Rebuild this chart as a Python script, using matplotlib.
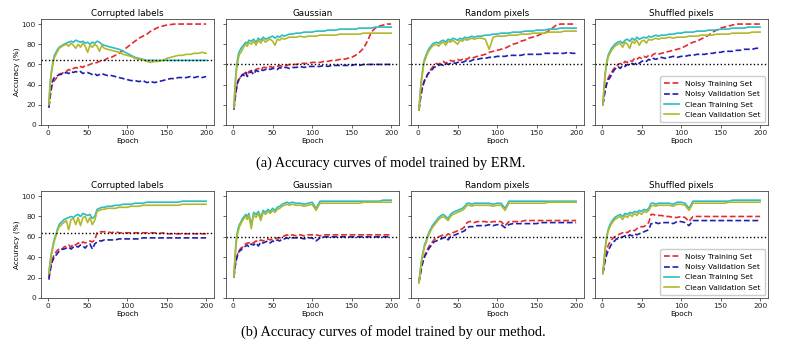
import matplotlib
matplotlib.use("Agg")
import matplotlib.pyplot as plt

epochs = [1, 2, 3, 4, 5, 6, 7, 8,
          10, 12, 14, 16, 18, 20,
          23, 26, 29, 32, 35, 38, 41, 44, 47, 50, 53, 56, 59, 62, 65, 68, 71,
          75, 80, 85, 90, 95, 100, 105, 110, 115, 120, 125, 130, 135, 140, 145,
          150, 155, 160, 165, 170, 175, 180, 185, 190, 195, 200]

panel_titles = ["Corrupted labels", "Gaussian", "Random pixels", "Shuffled pixels"]
series_names = ["Noisy Training Set", "Noisy Validation Set", "Clean Training Set", "Clean Validation Set"]
row_captions = ["(a) Accuracy curves of model trained by ERM.",
                "(b) Accuracy curves of model trained by our method."]
ref_lines_erm = [64, 60, 60, 60]
ref_lines_ours = [64, 60, 60, 60]

# ---------------- ERM row ----------------
erm_corrupt_noisy_train = [18, 24, 30, 35, 39, 41, 43, 44,
                           46, 48, 50, 51, 51, 53,
                           53, 55, 54, 56, 57, 56, 58, 57, 59, 59, 60, 61, 61, 62, 63, 64, 64,
                           66, 67, 69, 71, 74, 77, 80, 83, 86, 88, 90, 93, 95, 97, 98, 99, 99.5,
                           100, 100, 100, 100, 100, 100, 100, 100, 100]
erm_corrupt_noisy_val = [17, 25, 32, 38, 42, 44, 46, 47,
                         48, 49, 50, 50, 51, 51,
                         52, 51, 53, 52, 53, 52, 53, 51, 52, 52, 51, 50, 51, 49, 50, 51, 50,
                         49, 49, 48, 47, 46, 45, 44, 44, 43, 44, 42, 43, 42, 43, 44, 45, 46,
                         46, 47, 47, 47, 48, 47, 48, 47, 48]
erm_corrupt_clean_train = [22, 35, 45, 52, 57, 62, 66, 69,
                           72, 75, 77, 78, 79, 80,
                           81, 82, 83, 82, 84, 83, 82, 83, 81, 82, 80, 82, 81, 83, 82, 80, 79,
                           78, 77, 76, 75, 73, 71, 69, 67, 66, 65, 64, 64, 64, 64, 64, 64, 64,
                           64, 64, 64, 64, 64, 64, 64, 64, 64]
erm_corrupt_clean_val = [20, 32, 42, 50, 55, 60, 64, 67,
                         70, 73, 76, 77, 78, 79,
                         80, 78, 81, 79, 76, 80, 77, 81, 78, 72, 79, 77, 80, 78, 73, 79, 76,
                         75, 74, 73, 72, 70, 69, 68, 66, 65, 65, 63, 62, 63, 63, 64, 66, 67,
                         68, 69, 69, 70, 70, 71, 71, 72, 71]

erm_gauss_noisy_train = [17, 24, 30, 35, 39, 42, 44, 46,
                         48, 50, 51, 52, 50, 53,
                         54, 53, 55, 56, 55, 57, 57, 56, 58, 57, 58, 58, 59, 58, 59, 59, 60,
                         60, 60, 61, 61, 61, 62, 62, 62, 63, 63, 64, 64, 65, 65, 66, 67, 69,
                         72, 76, 83, 92, 96, 98, 99, 100, 100]
erm_gauss_noisy_val = [15, 22, 29, 35, 40, 43, 45, 47,
                       48, 50, 49, 52, 48, 51,
                       53, 50, 54, 53, 55, 54, 55, 56, 55, 56, 56, 55, 57, 56, 57, 57, 56,
                       57, 57, 58, 57, 58, 58, 58, 58, 59, 58, 59, 59, 59, 59, 59, 59, 60,
                       59, 60, 60, 60, 60, 60, 60, 60, 60]
erm_gauss_clean_train = [18, 32, 45, 55, 62, 67, 71, 73,
                         76, 78, 80, 82, 81, 84,
                         83, 85, 82, 86, 84, 87, 85, 86, 87, 88, 86, 88, 87, 89, 88, 89, 90,
                         90, 91, 91, 92, 92, 92, 93, 93, 93, 94, 94, 94, 95, 95, 95, 95, 95,
                         96, 96, 96, 96, 97, 97, 97, 97, 97]
erm_gauss_clean_val = [17, 30, 42, 52, 58, 63, 67, 70,
                       72, 75, 78, 80, 78, 82,
                       80, 83, 79, 84, 81, 85, 82, 84, 85, 83, 79, 85, 84, 86, 85, 86, 87,
                       87, 87, 88, 87, 88, 88, 88, 89, 89, 89, 89, 89, 90, 90, 90, 90, 90,
                       90, 91, 91, 91, 91, 91, 91, 91, 91]

erm_random_noisy_train = [14, 20, 26, 31, 35, 38, 41, 43,
                          46, 50, 53, 55, 57, 59,
                          61, 60, 62, 63, 61, 63, 64, 63, 64, 65, 64, 65, 66, 65, 67, 66, 67,
                          68, 69, 70, 72, 73, 74, 75, 76, 78, 80, 81, 83, 84, 86, 87, 88, 90,
                          91, 93, 96, 99, 100, 100, 100, 100, 100]
erm_random_noisy_val = [15, 21, 27, 32, 36, 39, 42, 44,
                        47, 50, 52, 54, 55, 57,
                        58, 59, 60, 59, 61, 60, 61, 62, 61, 62, 63, 62, 63, 64, 63, 64, 65,
                        65, 66, 66, 67, 67, 68, 68, 68, 69, 69, 69, 69, 70, 70, 70, 70, 70,
                        71, 71, 71, 71, 71, 71, 72, 71, 71]
erm_random_clean_train = [15, 25, 35, 44, 50, 56, 61, 65,
                          69, 73, 76, 78, 80, 81,
                          82, 81, 83, 84, 82, 85, 84, 86, 85, 84, 86, 85, 87, 86, 87, 88, 87,
                          88, 88, 89, 89, 90, 90, 91, 91, 91, 92, 92, 92, 93, 93, 93, 94, 94,
                          94, 95, 95, 95, 96, 96, 96, 96, 96]
erm_random_clean_val = [15, 24, 33, 42, 48, 54, 59, 63,
                        67, 71, 74, 76, 78, 79,
                        80, 78, 81, 82, 79, 83, 82, 84, 82, 80, 84, 83, 85, 84, 85, 86, 85,
                        86, 86, 85, 75, 87, 88, 88, 88, 89, 89, 89, 90, 90, 90, 91, 91, 91,
                        91, 92, 92, 92, 92, 93, 93, 93, 93]

erm_shuffle_noisy_train = [20, 26, 32, 36, 40, 43, 45, 47,
                           50, 52, 55, 57, 58, 60,
                           61, 60, 63, 62, 64, 63, 66, 65, 67, 66, 68, 67, 69, 68, 70, 71, 70,
                           71, 72, 73, 74, 75, 76, 78, 80, 82, 83, 85, 87, 89, 92, 94, 96, 97,
                           98, 99, 100, 100, 100, 100, 100, 100, 100]
erm_shuffle_noisy_val = [20, 25, 30, 34, 38, 41, 43, 45,
                         47, 50, 53, 55, 57, 58,
                         56, 59, 58, 60, 59, 61, 60, 62, 61, 63, 64, 63, 65, 64, 66, 65, 66,
                         67, 66, 67, 68, 67, 68, 68, 69, 69, 70, 70, 70, 71, 71, 72, 72, 73,
                         73, 73, 74, 74, 75, 75, 75, 76, 76]
erm_shuffle_clean_train = [20, 32, 43, 52, 58, 63, 67, 70,
                           73, 76, 78, 80, 81, 82,
                           83, 81, 84, 85, 83, 86, 84, 87, 85, 86, 87, 86, 88, 87, 88, 89, 88,
                           89, 89, 90, 90, 91, 91, 92, 92, 92, 93, 93, 93, 94, 94, 94, 95, 95,
                           95, 96, 96, 96, 96, 97, 97, 97, 97]
erm_shuffle_clean_val = [20, 31, 41, 50, 56, 61, 65, 68,
                         71, 74, 76, 78, 79, 80,
                         81, 77, 82, 80, 76, 83, 81, 84, 79, 83, 84, 81, 85, 84, 85, 86, 85,
                         86, 86, 87, 86, 87, 87, 87, 88, 88, 88, 89, 89, 89, 89, 90, 90, 90,
                         90, 91, 91, 91, 91, 91, 92, 92, 92]

# ---------------- Our method row ----------------
our_corrupt_noisy_train = [20, 25, 30, 34, 37, 39, 41, 43,
                           45, 47, 48, 49, 48, 50,
                           51, 52, 50, 53, 52, 54, 53, 55, 54, 55, 56, 55, 57, 64, 65, 65, 65,
                           65, 64, 65, 64, 64, 64, 64, 64, 64, 64, 64, 64, 64, 63, 64, 63, 63,
                           63, 63, 63, 63, 63, 63, 63, 63, 63]
our_corrupt_noisy_val = [18, 24, 28, 32, 35, 37, 39, 41,
                         42, 44, 46, 47, 48, 48,
                         49, 50, 48, 50, 51, 50, 52, 51, 49, 52, 53, 48, 53, 55, 56, 56, 57,
                         57, 57, 57, 58, 58, 58, 58, 58, 58, 59, 59, 59, 59, 59, 59, 59, 59,
                         59, 59, 59, 59, 59, 59, 59, 59, 59]
our_corrupt_clean_train = [25, 32, 38, 43, 47, 51, 55, 58,
                           63, 68, 72, 74, 75, 77,
                           78, 79, 80, 79, 81, 82, 80, 83, 82, 81, 82, 78, 80, 87, 88, 89, 89,
                           90, 90, 91, 91, 92, 92, 92, 93, 93, 93, 94, 94, 94, 94, 94, 94, 94,
                           94, 94, 95, 95, 95, 95, 95, 95, 95]
our_corrupt_clean_val = [24, 30, 36, 41, 45, 49, 53, 56,
                         61, 66, 70, 71, 73, 74,
                         76, 67, 77, 78, 72, 79, 71, 79, 80, 74, 79, 72, 76, 85, 86, 87, 87,
                         88, 88, 88, 89, 89, 89, 90, 90, 90, 91, 91, 91, 91, 91, 91, 91, 91,
                         91, 91, 92, 92, 92, 92, 92, 92, 92]

our_gauss_noisy_train = [22, 28, 34, 38, 41, 44, 46, 47,
                         49, 50, 52, 53, 54, 54,
                         55, 54, 56, 55, 57, 56, 57, 58, 57, 58, 58, 59, 59, 60, 61, 62, 61,
                         62, 61, 62, 61, 62, 62, 62, 61, 62, 62, 62, 62, 62, 62, 62, 62, 62,
                         62, 62, 62, 62, 62, 62, 62, 62, 62]
our_gauss_noisy_val = [20, 27, 33, 37, 40, 43, 45, 46,
                       47, 49, 50, 51, 52, 50,
                       53, 52, 54, 51, 55, 54, 55, 56, 54, 56, 55, 57, 56, 58, 58, 59, 58,
                       59, 59, 59, 58, 59, 59, 56, 59, 60, 60, 60, 60, 60, 60, 60, 60, 60,
                       60, 60, 60, 60, 60, 60, 60, 60, 60]
our_gauss_clean_train = [22, 35, 48, 57, 63, 67, 70, 72,
                         75, 78, 80, 82, 80, 83,
                         71, 84, 82, 85, 79, 86, 84, 87, 85, 88, 86, 89, 90, 92, 93, 94, 93,
                         94, 93, 93, 92, 93, 94, 88, 95, 95, 95, 95, 95, 95, 95, 95, 95, 95,
                         95, 95, 95, 95, 95, 95, 96, 96, 96]
our_gauss_clean_val = [21, 33, 45, 54, 60, 64, 67, 70,
                       73, 76, 78, 80, 77, 81,
                       68, 82, 79, 83, 76, 84, 82, 85, 83, 86, 84, 87, 88, 90, 91, 92, 91,
                       92, 91, 91, 90, 91, 92, 86, 93, 93, 93, 93, 93, 93, 93, 93, 93, 93,
                       93, 94, 94, 94, 94, 94, 94, 94, 94]

our_random_noisy_train = [15, 20, 25, 29, 33, 36, 39, 41,
                          45, 48, 51, 53, 55, 57,
                          59, 60, 61, 62, 61, 63, 62, 64, 65, 66, 67, 68, 70, 74, 75, 75, 74,
                          75, 75, 75, 74, 75, 75, 75, 71, 75, 75, 75, 75, 76, 76, 76, 76, 76,
                          76, 76, 76, 76, 76, 76, 76, 76, 76]
our_random_noisy_val = [15, 20, 24, 28, 32, 35, 38, 40,
                        43, 46, 49, 51, 53, 55,
                        56, 57, 58, 59, 60, 57, 60, 61, 62, 63, 64, 65, 66, 69, 70, 70, 70,
                        71, 71, 71, 72, 71, 72, 72, 69, 72, 73, 73, 73, 73, 73, 73, 73, 74,
                        74, 74, 74, 74, 74, 74, 74, 74, 74]
our_random_clean_train = [15, 22, 29, 35, 40, 44, 48, 52,
                          56, 61, 65, 68, 71, 73,
                          76, 79, 81, 82, 80, 78, 82, 84, 85, 86, 87, 88, 90, 93, 93, 92, 93,
                          93, 93, 93, 93, 92, 93, 93, 88, 95, 95, 95, 95, 95, 95, 95, 95, 95,
                          95, 95, 95, 95, 95, 95, 95, 95, 95]
our_random_clean_val = [15, 21, 28, 33, 38, 42, 46, 50,
                        54, 59, 63, 66, 69, 71,
                        74, 77, 79, 80, 78, 76, 80, 82, 83, 84, 85, 86, 88, 91, 91, 90, 91,
                        91, 91, 91, 91, 90, 91, 91, 86, 93, 93, 93, 93, 93, 93, 93, 93, 93,
                        93, 94, 94, 94, 94, 94, 94, 94, 94]

our_shuffle_noisy_train = [25, 31, 37, 41, 45, 48, 50, 52,
                           55, 57, 59, 60, 61, 62,
                           63, 64, 65, 64, 66, 67, 66, 68, 69, 70, 70, 72, 74, 82, 82, 81, 81,
                           81, 80, 80, 79, 79, 80, 79, 75, 80, 80, 80, 80, 80, 80, 80, 80, 80,
                           80, 80, 80, 80, 80, 80, 80, 80, 80]
our_shuffle_noisy_val = [24, 28, 33, 37, 40, 43, 45, 47,
                         50, 53, 55, 56, 58, 58,
                         59, 60, 61, 60, 62, 61, 63, 62, 63, 64, 65, 66, 67, 73, 73, 74, 73,
                         74, 74, 74, 73, 75, 75, 74, 71, 76, 76, 76, 76, 76, 76, 76, 76, 76,
                         76, 76, 76, 76, 76, 76, 76, 76, 76]
our_shuffle_clean_train = [24, 33, 42, 50, 56, 61, 65, 68,
                           72, 75, 77, 79, 80, 81,
                           82, 80, 83, 82, 84, 83, 85, 84, 86, 85, 87, 86, 88, 93, 93, 92, 93,
                           93, 93, 93, 92, 94, 94, 93, 88, 95, 95, 95, 95, 95, 95, 95, 95, 95,
                           95, 96, 96, 96, 96, 96, 96, 96, 96]
our_shuffle_clean_val = [24, 32, 40, 48, 54, 59, 63, 66,
                         70, 73, 75, 77, 78, 79,
                         80, 77, 81, 79, 82, 80, 83, 81, 84, 82, 85, 84, 86, 90, 91, 90, 91,
                         91, 91, 91, 90, 92, 92, 91, 86, 93, 93, 93, 93, 93, 93, 93, 93, 93,
                         94, 94, 94, 94, 94, 94, 94, 94, 94]

erm_rows = [
    [erm_corrupt_noisy_train, erm_corrupt_noisy_val, erm_corrupt_clean_train, erm_corrupt_clean_val],
    [erm_gauss_noisy_train, erm_gauss_noisy_val, erm_gauss_clean_train, erm_gauss_clean_val],
    [erm_random_noisy_train, erm_random_noisy_val, erm_random_clean_train, erm_random_clean_val],
    [erm_shuffle_noisy_train, erm_shuffle_noisy_val, erm_shuffle_clean_train, erm_shuffle_clean_val],
]
our_rows = [
    [our_corrupt_noisy_train, our_corrupt_noisy_val, our_corrupt_clean_train, our_corrupt_clean_val],
    [our_gauss_noisy_train, our_gauss_noisy_val, our_gauss_clean_train, our_gauss_clean_val],
    [our_random_noisy_train, our_random_noisy_val, our_random_clean_train, our_random_clean_val],
    [our_shuffle_noisy_train, our_shuffle_noisy_val, our_shuffle_clean_train, our_shuffle_clean_val],
]

colors = ["#e52a2e", "#1f1fb0", "#2bbcc4", "#b3b82a"]
styles = ["--", "--", "-", "-"]

fig = plt.figure(figsize=(8.0, 3.49), dpi=100)
lefts = [41, 226, 411, 595]
width = 173
rows_geom = [(19, 125), (191, 298)]
W, H = 800.0, 349.0

for r, (data_rows, refs) in enumerate([(erm_rows, ref_lines_erm), (our_rows, ref_lines_ours)]):
    top, bottom = rows_geom[r]
    for c in range(4):
        ax = fig.add_axes([lefts[c] / W, 1 - bottom / H, width / W, (bottom - top) / H])
        for s in range(4):
            vals = data_rows[c][s]
            n = min(len(vals), len(epochs))
            ax.plot(epochs[:n], vals[:n], styles[s], color=colors[s], lw=1.2,
                    dashes=(3.5, 1.6) if styles[s] == "--" else (None, None),
                    label=series_names[s])
        ax.axhline(refs[c], color="black", ls=":", lw=1.0)
        ax.set_xlim(-9, 210)
        ax.set_ylim(0, 105)
        ax.set_xticks([0, 50, 100, 150, 200])
        ax.set_yticks([0, 20, 40, 60, 80, 100])
        ax.tick_params(labelsize=5.3, length=2.2, width=0.5, pad=1.5, colors="#222222")
        for sp in ax.spines.values():
            sp.set_linewidth(0.6)
            sp.set_color("#444444")
        ax.set_title(panel_titles[c], fontsize=6.3, pad=2.5)
        ax.set_xlabel("Epoch", fontsize=5.3, labelpad=1.5)
        if c == 0:
            ax.set_ylabel("Accuracy (%)", fontsize=5.3, labelpad=1.5)
        else:
            ax.set_yticklabels([])
        if c == 3:
            ax.legend(loc="lower right", fontsize=5.4, handlelength=2.0,
                      borderpad=0.55, labelspacing=0.55, framealpha=1.0,
                      edgecolor="#cccccc", fancybox=True, borderaxespad=0.4)

fig.text(391 / W, 1 - 163 / H, row_captions[0], ha="center", va="center",
         fontsize=10.4, family="Liberation Serif")
fig.text(393 / W, 1 - 332 / H, row_captions[1], ha="center", va="center",
         fontsize=10.4, family="Liberation Serif")

fig.savefig("out.png", dpi=100)
